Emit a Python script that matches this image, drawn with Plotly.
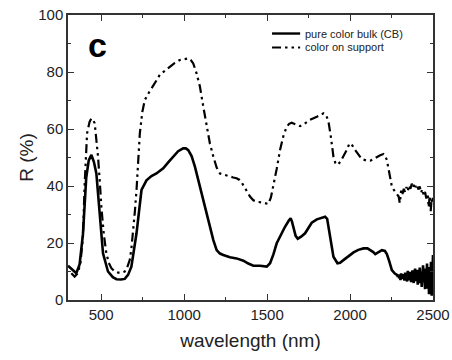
import plotly.graph_objects as go

# pure color bulk (CB)
cb_nm = [300, 330, 350, 370, 390, 410, 425, 441, 456, 471, 491, 511, 541, 570, 592, 620, 642, 662, 682, 700, 713, 728, 743, 773, 803, 833, 874, 904, 934, 964, 994, 1010, 1025, 1045, 1065, 1090, 1115, 1135, 1155, 1176, 1196, 1216, 1236, 1276, 1316, 1357, 1387, 1417, 1457, 1480, 1498, 1518, 1538, 1558, 1583, 1608, 1630, 1642, 1650, 1659, 1672, 1685, 1705, 1729, 1750, 1769, 1800, 1830, 1850, 1862, 1870, 1885, 1900, 1924, 1940, 1960, 1990, 2021, 2050, 2081, 2105, 2122, 2140, 2152, 2170, 2192, 2210, 2222, 2237, 2252, 2270, 2283,
         2288, 2292, 2296, 2300, 2304, 2308, 2312, 2316, 2320, 2324, 2328, 2332, 2336, 2340, 2344, 2348, 2352, 2356, 2360, 2364, 2368, 2372, 2376, 2380, 2384, 2388, 2392, 2396, 2400, 2404, 2408, 2412, 2416, 2420, 2424, 2428, 2432, 2436, 2440, 2444, 2448, 2452, 2456, 2460, 2464, 2468, 2472, 2476, 2480, 2484, 2488, 2492, 2496, 2500]
cb_r = [12, 10.5, 9.4, 12.5, 23, 43, 49, 50.9, 48.5, 44.4, 29, 16.4, 10, 8.0, 7.3, 7.2, 7.4, 8.8, 11.7, 18, 23.4, 31, 38.6, 42, 43.5, 44.4, 46.2, 48.3, 50.3, 52.2, 53.2, 53.2, 52.6, 50.5, 46.8, 41, 35, 30, 25.7, 21, 17.5, 16.3, 15.8, 15, 14.6, 13.8, 12.8, 12, 12, 11.8, 11.7, 12.9, 16, 19.9, 23, 25.7, 27.8, 28.7, 27.5, 25.1, 22.5, 21.5, 22.2, 23.4, 25.5, 27.1, 28.3, 29, 29.2, 28.5, 25.7, 20, 15.2, 12.9, 13.1, 14, 15.3, 16.7, 17.6, 18.1, 18.1, 17.5, 16.8, 16.1, 16.6, 17.5, 17.2, 16.1, 13.5, 10.5, 9.3, 8.8,
        8.2, 9.0, 7.6, 8.4, 7.0, 9.3, 8.1, 7.4, 9.0, 8.6, 6.8, 9.6, 7.7, 8.3, 6.5, 10.2, 7.9, 8.8, 6.9, 9.9, 6.3, 8.5, 10.4, 7.2, 6.0, 9.4, 11.0, 6.6, 8.0, 10.6, 5.4, 9.0, 7.3, 11.4, 5.9, 10.0, 4.6, 8.7, 12.2, 6.4, 9.5, 3.8, 11.0, 7.2, 12.8, 4.0, 9.9, 2.0, 11.6, 6.5, 13.4, 1.5, 10.5, 15.8]

# color on support
cs_nm = [320, 340, 360, 375, 390, 400, 415, 430, 441, 451, 461, 471, 481, 491, 501, 516, 531, 546, 562, 582, 602, 622, 642, 657, 672, 682, 692, 703, 713, 723, 733, 748, 763, 788, 813, 833, 853, 884, 914, 944, 974, 1000, 1025, 1040, 1055, 1075, 1095, 1115, 1135, 1155, 1176, 1196, 1216, 1246, 1276, 1296, 1316, 1332, 1347, 1372, 1397, 1417, 1437, 1472, 1508, 1523, 1538, 1558, 1578, 1598, 1618, 1633, 1648, 1674, 1699, 1729, 1759, 1800, 1840, 1855, 1870, 1885, 1900, 1912, 1924, 1942, 1960, 1980, 1997, 2014, 2031, 2051, 2071, 2096, 2122, 2142, 2162, 2182, 2202, 2212, 2222, 2237, 2252, 2262, 2272, 2285, 2293, 2300,
         2308, 2316, 2324, 2332, 2340, 2348, 2356, 2364, 2372, 2380, 2388, 2396, 2404, 2412, 2420, 2428, 2436, 2444, 2452, 2460, 2468, 2474, 2480, 2486, 2492, 2496, 2500]
cs_r = [9.4, 8.2, 9.5, 13, 22, 40, 58.5, 62.5, 63.7, 63.2, 62, 57, 50.3, 42, 32.7, 23, 16.4, 13, 11.1, 10, 9.6, 9.6, 10, 11.5, 14, 18, 23.4, 31, 38.6, 48, 58.5, 66, 70.2, 72.8, 74.9, 77, 79, 80.5, 81.9, 83.2, 84.2, 84.6, 84.8, 84.2, 83, 79.5, 74.9, 68, 60.8, 55, 50.3, 46.5, 44.4, 43.8, 43.3, 43.0, 42.7, 42.2, 41.2, 38.5, 36.3, 35, 34.5, 34.2, 33.7, 36, 39.8, 46, 52.6, 57.5, 60.8, 61.8, 62.2, 61.5, 61, 62, 63.2, 64.3, 65.5, 65, 62.6, 57, 50.3, 48, 47.4, 48.5, 50.3, 52.6, 55, 54.2, 52.6, 50.8, 49.4, 49, 48.9, 49.5, 50.3, 50.8, 51.2, 50.5, 49.1, 44, 39.8, 38.8, 38, 37, 36.3, 34,
        38.5, 37.2, 39.0, 37.8, 39.6, 38.2, 40.3, 39.0, 40.8, 39.4, 41.0, 39.6, 40.5, 38.8, 39.8, 37.6, 38.9, 36.8, 37.9, 35.6, 37.2, 32.5, 36.6, 31.2, 35.5, 34.0, 37.0]

FONT = "Liberation Sans, Arial"
DARK = "#222"

fig = go.Figure()
fig.add_trace(go.Scatter(x=cb_nm, y=cb_r, mode="lines", name="pure color bulk (CB)",
                         line=dict(color="black", width=2.6), showlegend=False))
fig.add_trace(go.Scatter(x=cs_nm, y=cs_r, mode="lines", name="color on support",
                         line=dict(color="black", width=2.2, dash="9px,4px,2.5px,4px,2.5px,4px"),
                         showlegend=False))

axis_common = dict(showline=True, linecolor="#333", linewidth=1.5, mirror="allticks",
                   ticks="inside", tickcolor="#333", ticklen=6, tickwidth=1.3,
                   showgrid=False, zeroline=False, automargin=False,
                   tickfont=dict(family=FONT, size=15, color=DARK))

fig.update_xaxes(range=[300, 2500], tickvals=[500, 1000, 1500, 2000, 2500],
                 minor=dict(ticks="inside", ticklen=3, tickcolor="#333", tick0=250, dtick=250),
                 title=dict(text="wavelength (nm)", font=dict(family=FONT, size=19, color=DARK), standoff=12),
                 **axis_common)
fig.update_yaxes(range=[0, 100], tick0=0, dtick=20,
                 minor=dict(ticks="inside", ticklen=3, tickcolor="#333", tick0=0, dtick=10),
                 title=dict(text="R (%)", font=dict(family=FONT, size=19, color=DARK), standoff=0),
                 **axis_common)

fig.add_annotation(x=0.08, y=0.895, xref="paper", yref="paper", text="<b>c</b>", showarrow=False,
                   xanchor="center", yanchor="middle",
                   font=dict(family=FONT, size=34, color="black"))

# legend (drawn manually for compact spacing)
legend_items = [("pure color bulk (CB)", "solid", 2.4, 0.935),
                ("color on support", "9px,4px,2.5px,4px,2.5px,4px", 2.0, 0.886)]
for label, dash, w, yy in legend_items:
    fig.add_shape(type="line", xref="paper", yref="paper", x0=0.559, x1=0.636, y0=yy, y1=yy,
                  line=dict(color="black", width=w, dash=dash))
    fig.add_annotation(x=0.643, y=yy, xref="paper", yref="paper", text=label, showarrow=False,
                       xanchor="left", yanchor="middle",
                       font=dict(family=FONT, size=11, color=DARK))

fig.update_layout(width=452, height=360, margin=dict(l=68, r=19, t=15, b=60),
                  plot_bgcolor="white", paper_bgcolor="white", showlegend=False)

fig.write_html("out.html", config={"displayModeBar": False},
               post_script="document.body.style.margin='0px';document.body.style.overflow='hidden';")
